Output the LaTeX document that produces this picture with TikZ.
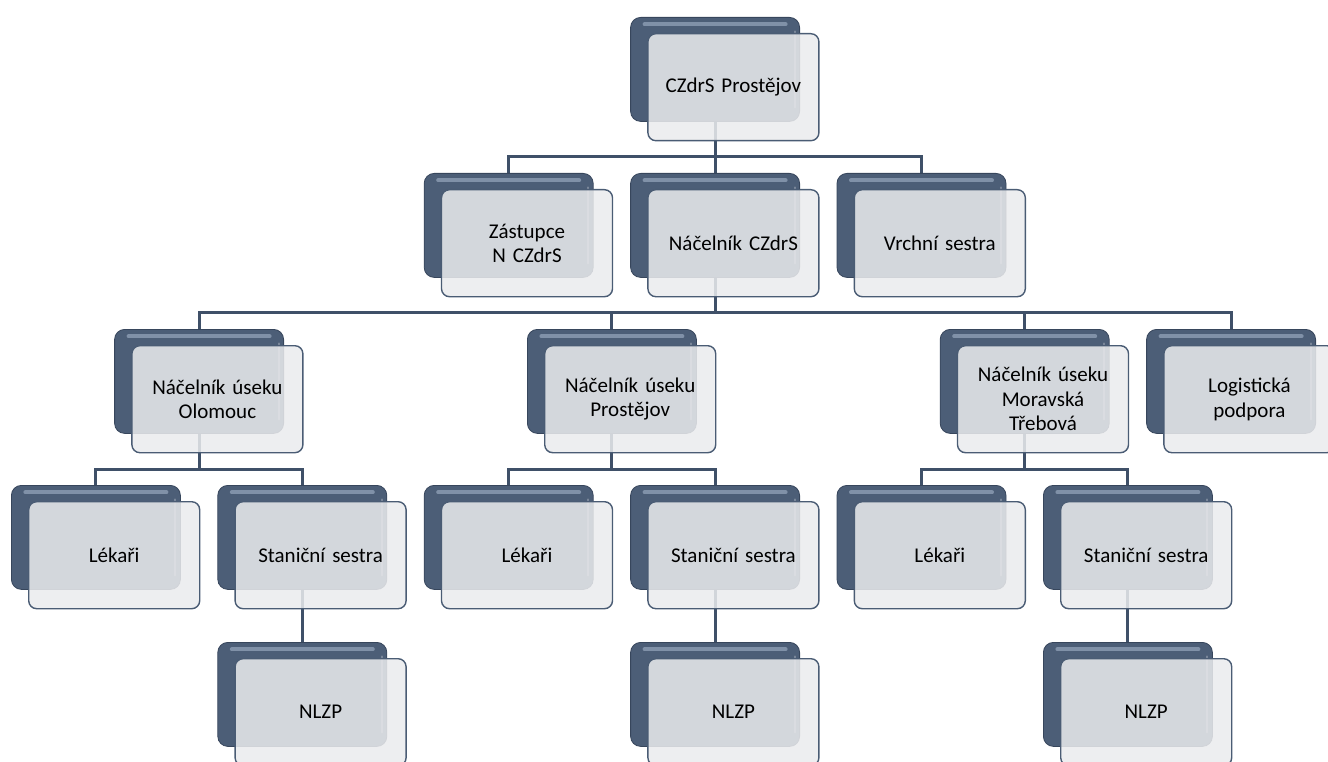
\documentclass[tikz,border=0pt]{standalone}
\usepackage{fontspec}
\setmainfont[WordSpace=0.85]{Carlito}
\usetikzlibrary{backgrounds}
\definecolor{slate}{RGB}{76,94,119}
\definecolor{slatedark}{RGB}{55,70,92}
\definecolor{slatelight}{RGB}{128,145,168}
\definecolor{conncol}{RGB}{63,80,104}
\definecolor{frontfill}{RGB}{234,235,237}
\definecolor{frontline}{RGB}{74,92,116}
\tikzset{
  backbox/.style={draw=slatedark, line width=0.8pt, rounded corners=10pt,
    fill=slate,
    path picture={
      \draw[slatelight, line width=4pt, line cap=round]
        ([xshift=14pt,yshift=-7pt]path picture bounding box.north west) --
        ([xshift=-14pt,yshift=-7pt]path picture bounding box.north east);
      \draw[slate!75!white, line width=2pt, line cap=round]
        ([xshift=-5pt,yshift=-14pt]path picture bounding box.north east) --
        ([xshift=-5pt,yshift=14pt]path picture bounding box.south east);
    },
    minimum width=169pt, minimum height=104pt, inner sep=0pt},
  frontbox/.style={draw=frontline, line width=1.4pt, rounded corners=8pt,
    fill=frontfill, fill opacity=0.86, text opacity=1, draw opacity=1,
    minimum width=171pt, minimum height=107pt, inner sep=2pt,
    align=center, text width=160pt, font=\fontsize{21}{24.5}\selectfont},
  conn/.style={draw=conncol, line width=3pt}
}
\newcommand\orgbox[4]{%
  \node[backbox, anchor=north west] (#1b) at (#2,#3) {};
  \node[frontbox, anchor=north west, xshift=17pt, yshift=-16pt] (#1) at (#2,#3) {#4};
}
\begin{document}
\begin{tikzpicture}[x=1pt,y=-1pt]
\useasboundingbox (0,0) rectangle (1328,762);
\begin{scope}
\clip (0,0) rectangle (1328,762);
\orgbox{top}{630.2}{17}{CZdrS Prostějov}
\orgbox{zast}{423.8}{173}{Zástupce\\N CZdrS}
\orgbox{nac}{630.2}{173}{Náčelník CZdrS}
\orgbox{vrch}{836.6}{173}{Vrchní sestra}
\orgbox{olo}{114.2}{329}{Náčelník úseku\\Olomouc}
\orgbox{pro}{527}{329}{Náčelník úseku\\Prostějov}
\orgbox{mor}{939.8}{329}{Náčelník úseku\\Moravská\\Třebová}
\orgbox{log}{1146.2}{329}{Logistická\\podpora}
\orgbox{lekA}{11}{485}{Lékaři}
\orgbox{staA}{217.4}{485}{Staniční sestra}
\orgbox{nlzA}{217.4}{642}{NLZP}
\orgbox{lekB}{423.8}{485}{Lékaři}
\orgbox{staB}{630.2}{485}{Staniční sestra}
\orgbox{nlzB}{630.2}{642}{NLZP}
\orgbox{lekC}{836.6}{485}{Lékaři}
\orgbox{staC}{1043}{485}{Staniční sestra}
\orgbox{nlzC}{1043}{642}{NLZP}
\coordinate (busA) at (0,157);
\coordinate (busB) at (0,312);
\coordinate (busC) at (0,469);
\begin{scope}[on background layer]
\draw[conn] (topb.south) -- (topb.south |- busA);
\draw[conn] (topb.south |- busA) -| (zastb.north);
\draw[conn] (topb.south |- busA) -| (nacb.north);
\draw[conn] (topb.south |- busA) -| (vrchb.north);
\draw[conn] (nacb.south) -- (nacb.south |- busB);
\draw[conn] (nacb.south |- busB) -| (olob.north);
\draw[conn] (nacb.south |- busB) -| (prob.north);
\draw[conn] (nacb.south |- busB) -| (morb.north);
\draw[conn] (nacb.south |- busB) -| (logb.north);
\draw[conn] (olob.south) -- (olob.south |- busC);
\draw[conn] (olob.south |- busC) -| (lekAb.north);
\draw[conn] (olob.south |- busC) -| (staAb.north);
\draw[conn] (prob.south) -- (prob.south |- busC);
\draw[conn] (prob.south |- busC) -| (lekBb.north);
\draw[conn] (prob.south |- busC) -| (staBb.north);
\draw[conn] (morb.south) -- (morb.south |- busC);
\draw[conn] (morb.south |- busC) -| (lekCb.north);
\draw[conn] (morb.south |- busC) -| (staCb.north);
\draw[conn] (staAb.south) -- (nlzAb.north);
\draw[conn] (staBb.south) -- (nlzBb.north);
\draw[conn] (staCb.south) -- (nlzCb.north);
\end{scope}
\end{scope}
\end{tikzpicture}
\end{document}
